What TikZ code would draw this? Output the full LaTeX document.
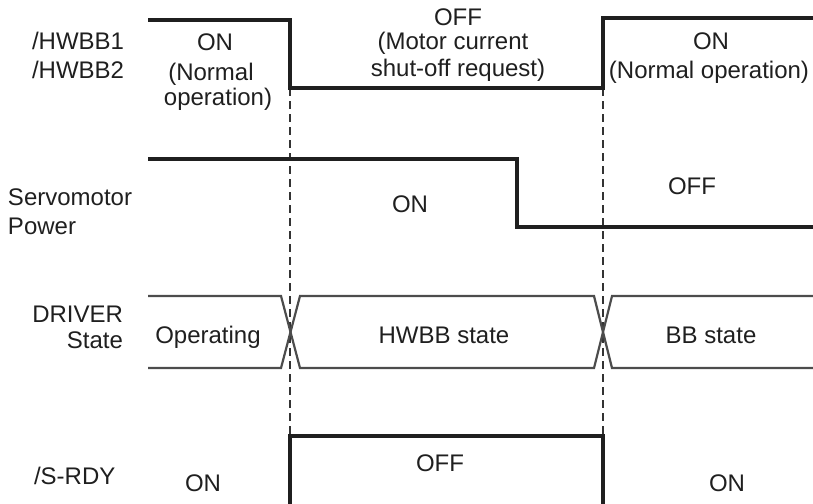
\documentclass[tikz,border=0pt]{standalone}
\usepackage{fontspec}
\setmainfont{Liberation Sans}
\begin{document}
\begin{tikzpicture}[x=1pt,y=-1pt,
  txt/.style={inner sep=0pt,outer sep=0pt,font=\fontsize{24}{28}\selectfont,text=black!88,anchor=base},
  sig/.style={line width=3.8pt,draw=black!88,line join=miter},
  bus/.style={line width=2.2pt,draw=black!70},
  guide/.style={line width=1.2pt,draw=black!80,dash pattern=on 8pt off 5pt}]
\useasboundingbox (0,0) rectangle (813,503);
\clip (0,0) rectangle (813,503);
% timing coordinates
\coordinate (ta) at (290,0);
\coordinate (tb) at (603,0);
% guides
\draw[guide] (290,88) coordinate (g1s) -- (290,436) coordinate (g1e);
\draw[guide] (603,88) coordinate (g2s) -- (603,436) coordinate (g2e);
% HWBB signal
\draw[sig] (148,20) coordinate (h0) -- (290,20) -- (290,88) -- (603,88) -- (603,18) -- (815,18) coordinate (h1);
% Servomotor power
\draw[sig] (148,159) coordinate (s0) -- (517,159) -- (517,227) -- (815,227) coordinate (s1);
% DRIVER state bus
\draw[bus] (148,296) coordinate (d0) -- (281,296) -- (300,368) -- (594,368) -- (612,296) -- (815,296) coordinate (d1);
\draw[bus] (148,368) coordinate (d2) -- (281,368) -- (300,296) -- (594,296) -- (612,368) -- (815,368) coordinate (d3);
% S-RDY
\draw[sig] (290,506) coordinate (r0) -- (290,436) -- (603,436) -- (603,506) coordinate (r1);
% labels
\node[txt,anchor=base west] (hwA) at (32,50) {/HWBB1};
\node[txt,anchor=base west] (hwB) at (32,78) {/HWBB2};
\node[txt] (on1) at (215,51) {ON};
\node[txt] (on1b) at (211,80) {(Normal};
\node[txt] (on1c) at (218,105) {operation)};
\node[txt] (off1) at (458,26) {OFF};
\node[txt] (off1b) at (453,50) {(Motor current};
\node[txt] (off1c) at (458,76) {shut-off request)};
\node[txt] (on2) at (711,50) {ON};
\node[txt] (on2b) at (709,78) {(Normal operation)};
\node[txt,anchor=base west] (sv1) at (8,205) {Servomotor};
\node[txt,anchor=base west] (sv2) at (8,234) {Power};
\node[txt] (svon) at (410,212) {ON};
\node[txt] (svoff) at (692,194) {OFF};
\node[txt,anchor=base east] (dr1) at (123,322) {DRIVER};
\node[txt,anchor=base east] (dr2) at (123,348) {State};
\node[txt] (op) at (208,343) {Operating};
\node[txt] (hw) at (444,343) {HWBB state};
\node[txt] (bb) at (711,343) {BB state};
\node[txt,anchor=base west] (sr) at (34,484) {/S-RDY};
\node[txt] (sron1) at (203,491) {ON};
\node[txt] (sroff) at (440,471) {OFF};
\node[txt] (sron2) at (727,491) {ON};
\end{tikzpicture}
\end{document}
